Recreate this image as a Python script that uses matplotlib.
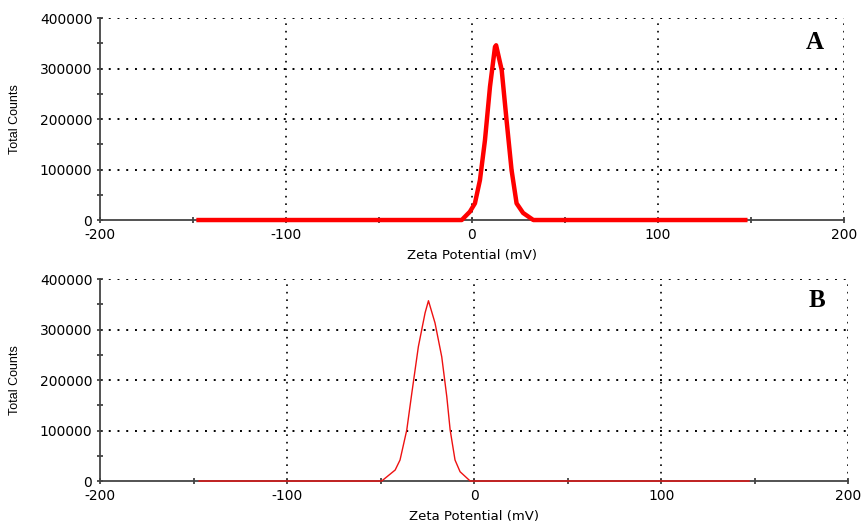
import matplotlib
matplotlib.use("Agg")
import matplotlib.pyplot as plt

plt.rcParams['font.family'] = ['DejaVu Sans']

# Zeta potential distributions (mV vs total counts)
zeta_a = [-147, -5.5, -1.1, 1.6, 4.3, 7.0, 9.7, 12.4, 13.0, 16.0, 18.6, 21.3, 24.0, 27.5, 33.0, 147]
counts_a = [0, 0, 16500, 33000, 79000, 158000, 264000, 343000, 346000, 297000, 198000, 99000, 33000, 14000, 0, 0]

zeta_b = [-147, -49.4, -42.2, -39.6, -36.0, -33.3, -29.8, -26.2, -24.4, -20.9, -17.3, -14.6, -12.8, -10.2, -7.5, -2.1, 147]
counts_b = [0, 0, 21800, 41600, 101000, 174000, 266000, 333000, 357000, 313000, 246000, 167000, 101000, 41600, 18400, 0, 0]

panel_labels = ["A", "B"]
x_major = [-200, -100, 0, 100, 200]
y_major = [0, 100000, 200000, 300000, 400000]

fig = plt.figure(figsize=(8.62, 5.22), dpi=100)
ax_a = fig.add_axes([0.116, 0.5785, 0.863, 0.387])
ax_b = fig.add_axes([0.116, 0.0785, 0.868, 0.387])

panels = [
    (ax_a, zeta_a, counts_a, 3.2, "#ff0000", -0.142, (0.961, 0.881)),
    (ax_b, zeta_b, counts_b, 1.0, "#ee1111", -0.142, (0.958, 0.896)),
]

for (ax, zx, zy, lw, col, xlab_y, lab_pos), lab in zip(panels, panel_labels):
    ax.set_xlim(-200, 200)
    ax.set_ylim(0, 400000)
    for s in ["top", "right"]:
        ax.spines[s].set_visible(False)
    for s in ["left", "bottom"]:
        ax.spines[s].set_color("#444444")
        ax.spines[s].set_linewidth(1.3)
    ax.set_xticks(x_major)
    ax.set_xticks([-150, -50, 50, 150], minor=True)
    ax.set_yticks(y_major)
    ax.set_yticks([50000, 150000, 250000, 350000], minor=True)
    ax.set_xticklabels([str(v) for v in x_major])
    ax.set_yticklabels([str(v) for v in y_major])
    ax.tick_params(which="both", direction="inout", length=5, width=1.2,
                   color="#333333", labelsize=10, pad=3)
    # dotted grid, including the closing lines at the upper and right limits
    for yv in y_major[1:]:
        ax.axhline(yv, color="black", lw=1.4, ls=(0, (1, 3.5)), zorder=0)
    for xv in x_major[1:]:
        ax.axvline(xv, color="black", lw=1.2, ls=(0, (1, 3.5)), zorder=0)
    ax.plot(zx, zy, color=col, lw=lw, solid_joinstyle="round", zorder=3, clip_on=False)
    ax.set_ylabel("Total Counts", fontsize=9, family="Liberation Sans")
    ax.yaxis.set_label_coords(-0.106, 0.5)
    ax.set_xlabel("Zeta Potential (mV)", fontsize=9.5)
    ax.xaxis.set_label_coords(0.5, xlab_y)
    ax.text(lab_pos[0], lab_pos[1], lab, transform=ax.transAxes, fontsize=18,
            fontweight="bold", family="Liberation Serif", ha="center", va="center")

fig.savefig("out.png", dpi=100)
